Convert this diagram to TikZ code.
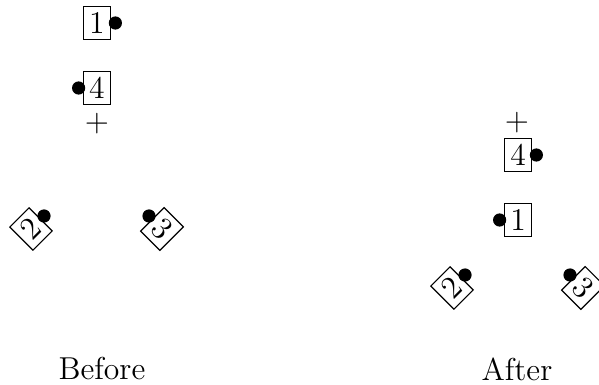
\documentclass[tikz,border=0pt]{standalone}
\usetikzlibrary{calc}
\begin{document}
\begin{tikzpicture}[x=0.3788pt,y=-0.3788pt,
  every node/.style={font=\large},
  numbox/.style={draw,line width=0.45pt,inner sep=2.2pt},
  knob/.style={circle,fill=black,inner sep=0pt,minimum size=5pt},
  plus/.style={inner sep=0pt}]
\useasboundingbox (0,0) rectangle (599,385);
% Before
\node[numbox] (b1) at (97,23) {1};
\node[knob] (b1d) at ($(b1.east)!-1.6pt!(b1.center)$) {};
\node[numbox] (b4) at (97,88) {4};
\node[knob] (b4d) at ($(b4.west)!-1.6pt!(b4.center)$) {};
\node[plus] (bp) at (97,124) {$+$};
\node[numbox,rotate=45] (b2) at (31,229) {2};
\node[knob] (b2d) at ($(b2.east)!-1.6pt!(b2.center)$) {};
\node[numbox,rotate=-45] (b3) at (162,229) {3};
\node[knob] (b3d) at ($(b3.west)!-1.6pt!(b3.center)$) {};
\node (bl) at (102,369) {Before};
% After
\node[plus] (ap) at (517,123) {$+$};
\node[numbox] (a4) at (518,155) {4};
\node[knob] (a4d) at ($(a4.east)!-1.6pt!(a4.center)$) {};
\node[numbox] (a1) at (518,220) {1};
\node[knob] (a1d) at ($(a1.west)!-1.6pt!(a1.center)$) {};
\node[numbox,rotate=45] (a2) at (452,288) {2};
\node[knob] (a2d) at ($(a2.east)!-1.6pt!(a2.center)$) {};
\node[numbox,rotate=-45] (a3) at (583,288) {3};
\node[knob] (a3d) at ($(a3.west)!-1.6pt!(a3.center)$) {};
\node (al) at (517,369) {After};
\end{tikzpicture}
\end{document}
